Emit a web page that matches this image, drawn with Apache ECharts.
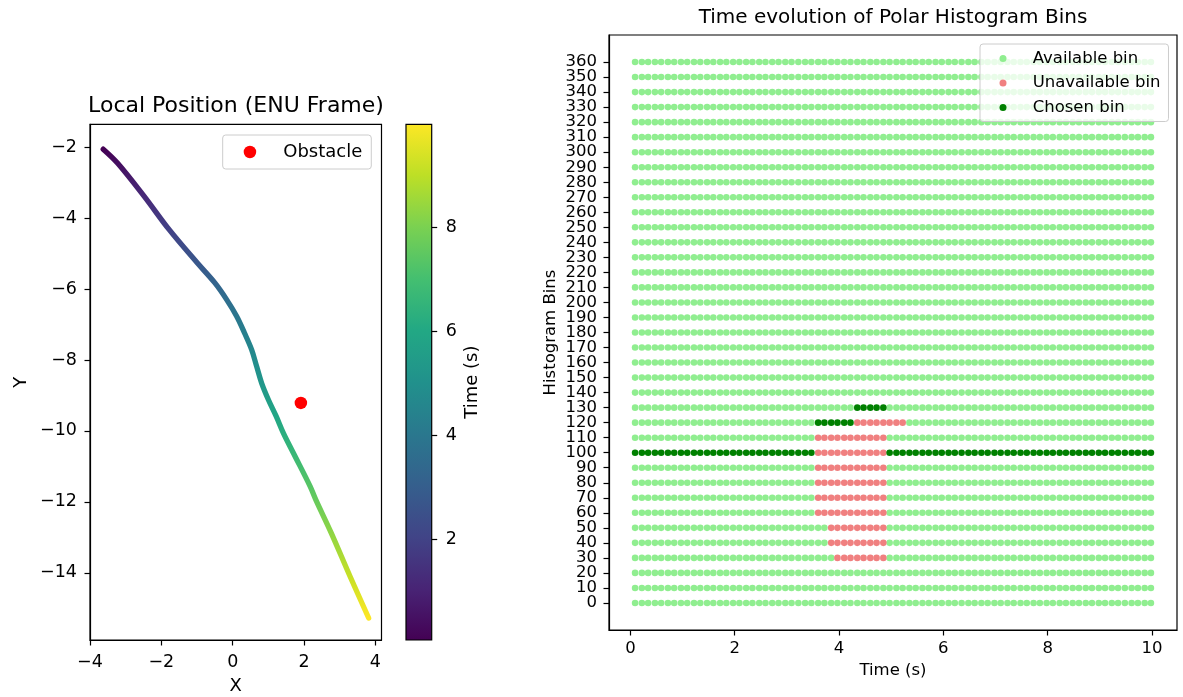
<!DOCTYPE html>
<html>
<head>
<meta charset="utf-8">
<title>Local position and polar histogram bins</title>
<script src="https://cdn.jsdelivr.net/npm/echarts@6/dist/echarts.min.js"></script>
<style>
  html, body { margin: 0; padding: 0; background: #ffffff; }
  #main { width: 1183px; height: 697px; }
</style>
</head>
<body>
<div id="main"></div>
<script>
// ---- Vehicle track in the ENU frame ----
const trajX = [-3.63, -3.23, -2.48, -1.78, -0.99, -0.50, -0.17, 0.11, 0.33, 0.53, 0.67,
               0.81, 1.00, 1.22, 1.42, 1.70, 2.17, 2.33, 2.76, 3.29, 3.81];
const trajY = [-2.06, -2.45, -3.39, -4.33, -5.27, -5.83, -6.30, -6.77, -7.24, -7.71, -8.18,
               -8.65, -9.12, -9.59, -10.06, -10.62, -11.56, -11.94, -12.87, -14.10, -15.27];
const trajT = [0.07, 0.43, 1.21, 1.97, 2.74, 3.25, 3.62, 3.97, 4.31, 4.64, 4.95,
               5.27, 5.60, 5.94, 6.27, 6.67, 7.35, 7.63, 8.30, 9.15, 9.98];
const obstacle = [1.91, -9.21];
const timeRange = [0.07, 9.98];
const xTicksLeft = [-4, -2, 0, 2, 4];
const yTicksLeft = [-14, -12, -10, -8, -6, -4, -2];
const colorbarTicks = [2, 4, 6, 8];

// ---- Polar histogram over time ----
const sampleTimes = [0.09, 0.22, 0.34, 0.47, 0.59, 0.72, 0.84, 0.97, 1.09, 1.22,
                     1.34, 1.47, 1.59, 1.72, 1.84, 1.97, 2.09, 2.22, 2.34, 2.47,
                     2.59, 2.72, 2.84, 2.97, 3.09, 3.22, 3.35, 3.47, 3.60, 3.72,
                     3.85, 3.97, 4.10, 4.22, 4.35, 4.47, 4.60, 4.72, 4.85, 4.97,
                     5.10, 5.22, 5.35, 5.47, 5.60, 5.72, 5.85, 5.97, 6.10, 6.22,
                     6.35, 6.48, 6.60, 6.73, 6.85, 6.98, 7.10, 7.23, 7.35, 7.48,
                     7.60, 7.73, 7.85, 7.98, 8.10, 8.23, 8.35, 8.48, 8.60, 8.73,
                     8.85, 8.98, 9.10, 9.23, 9.35, 9.48, 9.61, 9.73, 9.86, 9.98];
const histogramBins = [0, 10, 20, 30, 40, 50, 60, 70, 80, 90, 100, 110, 120, 130, 140, 150,
                       160, 170, 180, 190, 200, 210, 220, 230, 240, 250, 260, 270, 280,
                       290, 300, 310, 320, 330, 340, 350, 360];
const timeTicks = [0, 2, 4, 6, 8, 10];
// [bin, first sample time, last sample time]
const chosenSpans = [[100, 0.09, 3.47], [120, 3.60, 4.22], [130, 4.35, 4.85], [100, 4.97, 9.98]];
const blockedSpans = [[30, 3.97, 4.85], [40, 3.85, 4.85], [50, 3.85, 4.85], [60, 3.60, 4.85],
                      [70, 3.60, 4.85], [80, 3.60, 4.85], [90, 3.60, 4.85], [100, 3.60, 4.85],
                      [110, 3.60, 4.85], [120, 4.35, 5.22]];

const viridis = ['#440154', '#482475', '#414487', '#355f8d', '#2a788e', '#21918c',
                 '#22a884', '#44bf70', '#7ad151', '#bddf26', '#fde725'];

const FONT = 'DejaVu Sans';
const minus = v => String(v).replace('-', '\u2212');

function timeColor(t) {
  const f = (t - timeRange[0]) / (timeRange[1] - timeRange[0]);
  return echarts.color.lerp(Math.min(1, Math.max(0, f)), viridis);
}

function inSpan(spans, bin, t) {
  return spans.some(s => s[0] === bin && t >= s[1] - 1e-6 && t <= s[2] + 1e-6);
}

const availablePts = [], blockedPts = [], chosenPts = [];
histogramBins.forEach(bin => {
  sampleTimes.forEach(t => {
    if (inSpan(chosenSpans, bin, t)) chosenPts.push([t, bin]);
    else if (inSpan(blockedSpans, bin, t)) blockedPts.push([t, bin]);
    else availablePts.push([t, bin]);
  });
});

// the bin labels sit closer than their text height, so they are split over two
// coincident axes (every other bin) to keep all of them visible
const binLabelsA = histogramBins.filter((b, i) => i % 2 === 0);
const binLabelsB = histogramBins.filter((b, i) => i % 2 === 1);

const trackData = trajX.map((x, i) => [x, trajY[i], trajT[i]]);

// whole track as one smoothed polyline; the stroke is shaded by time along the
// (monotonic) north coordinate so each sample gets the colour of its timestamp
function renderTrack(params, api) {
  if (params.dataIndex !== 0) return null;
  const pts = trajX.map((x, i) => api.coord([x, trajY[i]]));
  const y0 = pts[0][1], y1 = pts[pts.length - 1][1];
  const stops = pts.map((p, i) => ({ offset: (p[1] - y0) / (y1 - y0), color: timeColor(trajT[i]) }));
  return {
    type: 'polyline',
    shape: { points: pts, smooth: 0.35 },
    style: {
      fill: null,
      stroke: new echarts.graphic.LinearGradient(0, y0, 0, y1, stops, true),
      lineWidth: 5.3,
      lineCap: 'round',
      lineJoin: 'round'
    }
  };
}

// colour bar for time
function renderColorbar(params, api) {
  const top = api.coord([0, timeRange[1]]);
  const bottom = api.coord([1, timeRange[0]]);
  return {
    type: 'rect',
    shape: { x: top[0], y: top[1], width: bottom[0] - top[0], height: bottom[1] - top[1] },
    style: {
      fill: new echarts.graphic.LinearGradient(0, 1, 0, 0,
        viridis.map((c, k) => ({ offset: k / (viridis.length - 1), color: c }))),
      stroke: '#000',
      lineWidth: 1.2
    }
  };
}

function tickAxis(extra) {
  return Object.assign({
    type: 'value',
    splitLine: { show: false },
    axisLine: { show: true, onZero: false, lineStyle: { color: '#000', width: 1.2 } }
  }, extra);
}

function ticks(values) {
  return { show: true, length: 5.5, customValues: values, lineStyle: { color: '#000', width: 1.2 } };
}

function labels(values, size, margin, fmt) {
  const l = { customValues: values, fontFamily: FONT, fontSize: size, color: '#000', margin: margin,
              showMinLabel: true, showMaxLabel: true, hideOverlap: false };
  if (fmt) l.formatter = fmt;
  return l;
}

const gridBox = { show: true, borderColor: '#000', borderWidth: 1.2, backgroundColor: 'transparent', outerBoundsMode: 'none' };

const chart = echarts.init(document.getElementById('main'), null, { renderer: 'canvas' });
chart.setOption({
  animation: false,
  backgroundColor: '#ffffff',
  textStyle: { fontFamily: FONT },
  title: [
    { text: 'Local Position (ENU Frame)', left: 236, top: 95, textAlign: 'center', padding: 0,
      textStyle: { fontFamily: FONT, fontSize: 22, fontWeight: 'normal', color: '#000' } },
    { text: 'Time evolution of Polar Histogram Bins', left: 893, top: 8, textAlign: 'center', padding: 0,
      textStyle: { fontFamily: FONT, fontSize: 20, fontWeight: 'normal', color: '#000' } }
  ],
  legend: [
    { data: ['Obstacle'], left: 222.7, top: 135, orient: 'vertical', icon: 'circle',
      itemWidth: 56.6, itemHeight: 12.5, padding: [8, 9, 8, 21], selectedMode: false,
      backgroundColor: 'rgba(255,255,255,0.8)', borderColor: '#cccccc', borderWidth: 1, borderRadius: 3,
      textStyle: { fontFamily: FONT, fontSize: 18, color: '#000' } },
    { data: ['Available bin', 'Unavailable bin', 'Chosen bin'], left: 980, top: 44, orient: 'vertical',
      icon: 'circle', itemWidth: 49.4, itemHeight: 7, itemGap: 6.5, padding: [5.5, 8, 5, 19.5], selectedMode: false,
      backgroundColor: 'rgba(255,255,255,0.8)', borderColor: '#cccccc', borderWidth: 1, borderRadius: 3,
      textStyle: { fontFamily: FONT, fontSize: 16.5, color: '#000', lineHeight: 18 } }
  ],
  grid: [
    Object.assign({ left: 90, top: 124.3, width: 291.5, height: 515.7 }, gridBox),
    Object.assign({ left: 406, top: 124.3, width: 25.7, height: 515.7 }, gridBox, { show: false }),
    Object.assign({ left: 609, top: 35, width: 568, height: 595 }, gridBox)
  ],
  xAxis: [
    tickAxis({ gridIndex: 0, min: -4, max: 4.17,
      axisTick: ticks(xTicksLeft),
      axisLabel: labels(xTicksLeft, 17.5, 13, minus),
      name: 'X', nameLocation: 'middle', nameGap: 37,
      nameTextStyle: { fontFamily: FONT, fontSize: 18, color: '#000' } }),
    { gridIndex: 1, type: 'value', min: 0, max: 1, show: false },
    tickAxis({ gridIndex: 2, min: -0.41, max: 10.48,
      axisTick: ticks(timeTicks),
      axisLabel: labels(timeTicks, 16.5, 10),
      name: 'Time (s)', nameLocation: 'middle', nameGap: 28,
      nameTextStyle: { fontFamily: FONT, fontSize: 16.5, color: '#000' } })
  ],
  yAxis: [
    tickAxis({ gridIndex: 0, min: -15.89, max: -1.36,
      axisTick: ticks(yTicksLeft),
      axisLabel: labels(yTicksLeft, 17.5, 13, minus),
      name: 'Y', nameLocation: 'middle', nameGap: 60, nameRotate: 90,
      nameTextStyle: { fontFamily: FONT, fontSize: 18, color: '#000' } }),
    tickAxis({ gridIndex: 1, position: 'right', min: timeRange[0], max: timeRange[1],
      axisLine: { show: false, onZero: false },
      axisTick: ticks(colorbarTicks),
      axisLabel: labels(colorbarTicks, 17.5, 14),
      name: 'Time (s)', nameLocation: 'middle', nameGap: 32, nameRotate: 90,
      nameTextStyle: { fontFamily: FONT, fontSize: 18, color: '#000' } }),
    tickAxis({ gridIndex: 2, position: 'left', offset: 0, min: -18, max: 378,
      axisTick: ticks(binLabelsA),
      axisLabel: labels(binLabelsA, 16.5, 12),
      name: 'Histogram Bins', nameLocation: 'middle', nameGap: 50, nameRotate: 90,
      nameTextStyle: { fontFamily: FONT, fontSize: 16.5, color: '#000' } }),
    tickAxis({ gridIndex: 2, position: 'left', offset: 0, min: -18, max: 378,
      axisLine: { show: false, onZero: false },
      axisTick: ticks(binLabelsB),
      axisLabel: labels(binLabelsB, 16.5, 12) })
  ],
  series: [
    { type: 'custom', name: 'track', xAxisIndex: 0, yAxisIndex: 0, data: trackData,
      encode: { x: 0, y: 1 }, renderItem: renderTrack, silent: true },
    { type: 'scatter', name: 'Obstacle', xAxisIndex: 0, yAxisIndex: 0, data: [obstacle],
      symbolSize: 12.5, itemStyle: { color: '#ff0000', opacity: 1 }, z: 3 },
    { type: 'custom', name: 'colorbar', xAxisIndex: 1, yAxisIndex: 1, data: [[0, timeRange[0]]],
      renderItem: renderColorbar, silent: true },
    { type: 'scatter', name: 'Available bin', xAxisIndex: 2, yAxisIndex: 2, data: availablePts,
      symbolSize: 6.6, itemStyle: { color: '#90ee90', opacity: 1 } },
    { type: 'scatter', name: 'Unavailable bin', xAxisIndex: 2, yAxisIndex: 2, data: blockedPts,
      symbolSize: 6.6, itemStyle: { color: '#f08080', opacity: 1 } },
    { type: 'scatter', name: 'Chosen bin', xAxisIndex: 2, yAxisIndex: 2, data: chosenPts,
      symbolSize: 6.6, itemStyle: { color: '#008000', opacity: 1 } }
  ]
});
</script>
</body>
</html>
